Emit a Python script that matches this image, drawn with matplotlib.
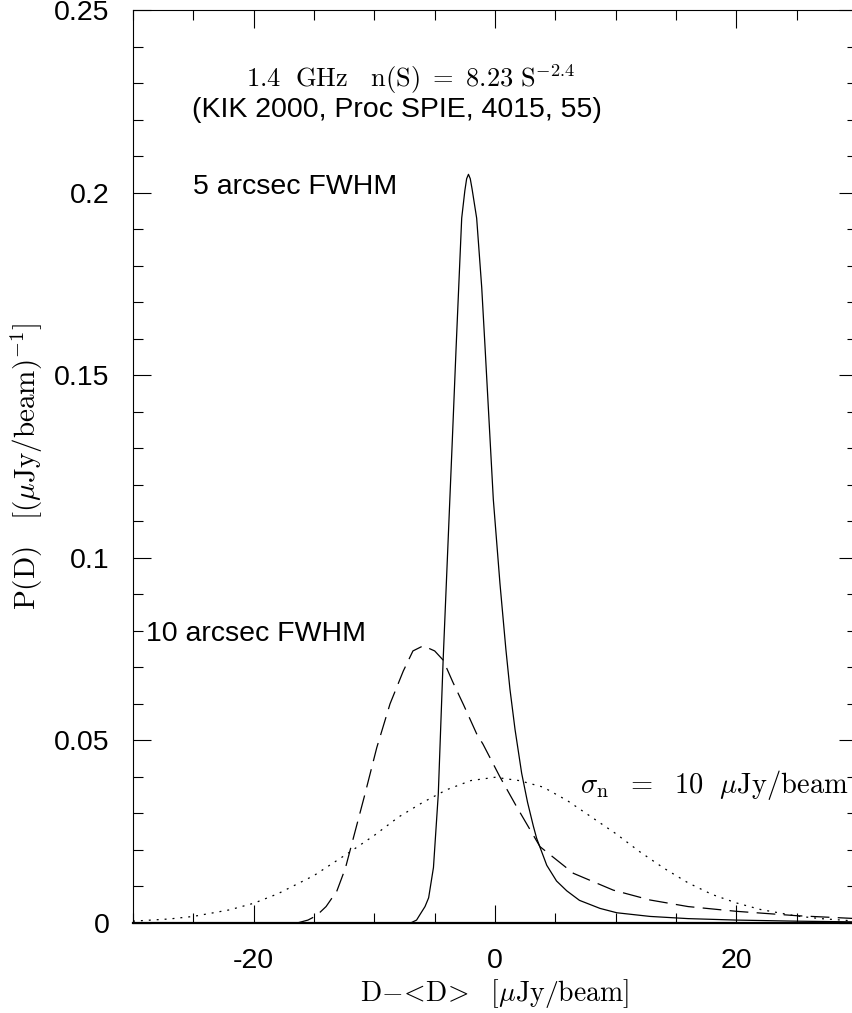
import numpy as np
import matplotlib
matplotlib.use("Agg")
import matplotlib.pyplot as plt
from matplotlib.ticker import MultipleLocator, FuncFormatter

# 5 arcsec FWHM P(D) (solid)
x5 = [-30, -7.0, -6.5, -6.2, -5.8, -5.5, -5.1, -4.7, -4.3, -4.0, -3.73, -3.54,
      -3.23, -3.1, -2.76, -2.5, -2.35, -2.2, -2.05, -1.9, -1.52, -1.1, -0.83,
      -0.55, -0.14, 0.41, 0.9, 1.24, 1.66, 2.21, 2.7, 3.18, 3.45, 4.29, 5.1,
      5.95, 7.0, 8.7, 10.1, 12.85, 16, 20, 25, 30]
p5 = [0, 0, 0.0008, 0.0024, 0.0045, 0.0069, 0.0152, 0.0353, 0.0718, 0.0956,
      0.117, 0.132, 0.157, 0.167, 0.193, 0.2005, 0.2038, 0.205, 0.2038, 0.201,
      0.193, 0.174, 0.158, 0.141, 0.116, 0.093, 0.075, 0.064, 0.053, 0.041,
      0.033, 0.0265, 0.0232, 0.0158, 0.0115, 0.0088, 0.0062, 0.0040, 0.0028,
      0.0018, 0.0012, 0.0008, 0.0005, 0.0003]

# 10 arcsec FWHM P(D) (dashed)
x10 = [-30, -16.4, -15.5, -14.8, -14.0, -13.1, -12.4, -11.8, -10.8, -9.8, -8.7,
       -7.6, -6.8, -5.95, -5.0, -4.3, -3.5, -2.6, -1.52, -1.0, 0.41, 1.8, 3.73,
       6.5, 9.8, 12.85, 16, 20, 25, 30]
p10 = [0, 0, 0.0008, 0.002, 0.0045, 0.0088, 0.015, 0.0225, 0.035, 0.048, 0.060,
       0.069, 0.0745, 0.0759, 0.0745, 0.072, 0.066, 0.0597, 0.0518, 0.049,
       0.040, 0.0318, 0.0209, 0.0136, 0.009, 0.0063, 0.0045, 0.0032, 0.002,
       0.0012]

# pure noise, sigma_n = 10 (dotted)
xn = [-30, -27, -25, -22, -20, -18, -15, -12, -10, -8, -6, -4, -2, 0, 2, 4, 6,
      8, 10, 12, 14, 16, 18, 20, 22, 25, 27, 30]
pn = [0.0005, 0.0011, 0.0018, 0.0036, 0.0054, 0.008, 0.013, 0.0195, 0.024,
      0.029, 0.033, 0.0365, 0.039, 0.0399, 0.039, 0.0372, 0.0335, 0.029,
      0.0245, 0.0195, 0.015, 0.011, 0.0078, 0.0055, 0.0037, 0.0019, 0.0012,
      0.0005]

plt.rcParams['font.family'] = ['Liberation Sans', 'DejaVu Sans']
plt.rcParams['mathtext.fontset'] = 'cm'
plt.rcParams['axes.unicode_minus'] = False
plt.rcParams['lines.scale_dashes'] = False

fig = plt.figure(figsize=(8.53, 10.13), dpi=100)
ax = fig.add_axes([133 / 853, 90 / 1013, 724 / 853, 913 / 1013])

ax.plot(x5, p5, color='black', lw=0.9)
ax.plot(x10, p10, color='black', lw=0.9, dashes=(13.5, 6))
ax.plot(xn, pn, color='black', lw=0.9, dashes=(1.4, 4.3))

ax.set_xlim(-30, 30)
ax.set_ylim(0, 0.25)
ax.xaxis.set_major_locator(MultipleLocator(20))
ax.xaxis.set_minor_locator(MultipleLocator(5))
ax.yaxis.set_major_locator(MultipleLocator(0.05))
ax.yaxis.set_minor_locator(MultipleLocator(0.01))
fmt = FuncFormatter(lambda v, pos: '%g' % round(v, 4))
ax.xaxis.set_major_formatter(fmt)
ax.yaxis.set_major_formatter(fmt)

ax.tick_params(which='both', direction='in', top=True, right=True, width=0.8)
ax.tick_params(which='major', length=13, labelsize=20.5)
ax.tick_params(which='minor', length=7)
ax.tick_params(axis='x', which='major', pad=18)
ax.tick_params(axis='y', which='major', pad=17)
for s in ax.spines.values():
    s.set_linewidth(0.8)
ax.spines['bottom'].set_linewidth(1.6)

ax.set_xlabel(r'$\mathrm{D{-}\!<\!D\!>\ \ [\mu Jy/beam]}$', fontsize=20, labelpad=2)
ax.set_ylabel(r'$\mathrm{P(D)\ \ \ [(\mu Jy/beam)^{-1}]}$', fontsize=21, labelpad=6)

ax.text(-20.6, 0.231, r'$\mathrm{1.4\ \ GHz\ \ \ n(S)\ =\ 8.23\ S^{-2.4}}$',
        fontsize=19, va='center', ha='left')
ax.text(-25.1, 0.2225, '(KIK 2000, Proc SPIE, 4015, 55)', fontsize=20.5,
        va='center', ha='left')
ax.text(-25.0, 0.2015, '5 arcsec FWHM', fontsize=20.5, va='center', ha='left')
ax.text(-28.9, 0.079, '10 arcsec FWHM', fontsize=20.5, va='center', ha='left')
ax.text(7.05, 0.0377, r'$\sigma_{\mathrm{n}}\ \ =\ \ 10\ \ \mu\mathrm{Jy/beam}$',
        fontsize=20.5, va='center', ha='left')

fig.savefig('out.png', dpi=100)
